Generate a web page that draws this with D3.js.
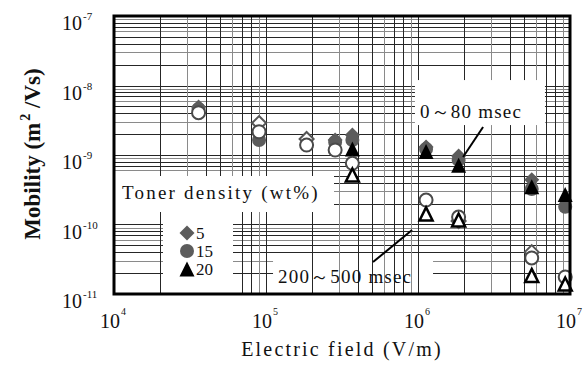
<!DOCTYPE html>
<html><head><meta charset="utf-8">
<script src="https://cdn.jsdelivr.net/npm/d3@7"></script>
<style>body{margin:0;background:#fff}</style>
</head><body>
<svg id="c" width="584" height="368"></svg>
<script>
// ---------- data ----------
const fieldValues = [3.6e4, 9e4, 1.85e5, 2.85e5, 3.7e5, 1.13e6, 1.85e6, 5.6e6, 9.3e6];
// 0~80 msec (filled markers), null = not visible
const early5  = [4.9e-9, null, null, 1.64e-9, 1.94e-9, 1.30e-9, 9.7e-10, 4.4e-10, null];
const early15 = [4.6e-9, 1.64e-9, null, 1.54e-9, 1.64e-9, 1.22e-9, 8.5e-10, 3.24e-10, 1.8e-10];
const early20 = [null, null, null, null, 1.22e-9, 1.12e-9, 7.1e-10, 3.5e-10, 2.7e-10];
// 200~500 msec (open markers)
const late5   = [null, 2.88e-9, 1.70e-9, null, null, null, 1.12e-10, 4.0e-11, null];
const late15  = [4.06e-9, 2.16e-9, 1.39e-9, 1.18e-9, 7.6e-10, 2.25e-10, 1.28e-10, 3.3e-11, 1.76e-11];
const late20  = [null, null, null, null, 5.15e-10, 1.42e-10, 1.16e-10, 1.85e-11, 1.39e-11];
const densities = ["5", "15", "20"];
const xTickExps = [4, 5, 6, 7];
const yTickExps = [-7, -8, -9, -10, -11];
const xTitle = "Electric field (V/m)";
const yTitleMain = "Mobility (m";
const yTitleSup = "2";
const yTitleEnd = " /Vs)";
const legendTitle = "Toner density (wt%)";
const earlyLabel = "0\uFF5E80 msec";
const lateLabel = "200\uFF5E500 msec";
// annotation anchors in data units [field, mobility]
const earlyLabelAt = [1.03e6, 3.4e-9];
const earlyArrow = [[2.68e6, 2.53e-9], [1.98e6, 9.35e-10]];
const lateLabelAt = [1.2e5, 1.44e-11];
const lateArrow = [[5.06e5, 2.88e-11], [9.14e5, 8.34e-11]];

// ---------- setup ----------
const m = {l:114, t:16, r:570, b:294};
const x = d3.scaleLog().domain([1e4, 1e7]).range([m.l, m.r]);
const y = d3.scaleLog().domain([1e-11, 1e-7]).range([m.b, m.t]);
const svg = d3.select("#c");
const serif = "'Liberation Serif','Times New Roman',serif";

const gH = svg.append("g");
const gBoxH = svg.append("g");
const gV = svg.append("g");
const gBox = svg.append("g");
const gMarks = svg.append("g");
const gFrame = svg.append("g");
const gAnn = svg.append("g");

// grid
const ks = [1,2,3,4,5,6,7,8,9];
const gridColor = k => ([3,6,9].includes(k) ? "#8a8a8a" : "#262626");
const xg = []; [4,5,6].forEach(e => ks.forEach(k => xg.push({v:k*Math.pow(10,e), k})));
const yg = []; [-11,-10,-9,-8].forEach(e => ks.forEach(k => yg.push({v:k*Math.pow(10,e), k})));
gH.selectAll("line").data(yg).join("line")
  .attr("x1", m.l).attr("x2", m.r)
  .attr("y1", d => Math.round(y(d.v))+0.5).attr("y2", d => Math.round(y(d.v))+0.5)
  .attr("stroke", d => gridColor(d.k)).attr("stroke-width", 1);
gV.selectAll("line").data(xg).join("line")
  .attr("y1", m.t).attr("y2", m.b)
  .attr("x1", d => Math.round(x(d.v))+0.5).attr("x2", d => Math.round(x(d.v))+0.5)
  .attr("stroke", d => gridColor(d.k)).attr("stroke-width", 1);

// white boxes
const lx = x(lateLabelAt[0]), ly = y(lateLabelAt[1]);
gBoxH.append("rect").attr("x", lx-5).attr("y", ly-27).attr("width", 160).attr("height", m.b-(ly-27)).attr("fill", "#fff");
const ex = x(earlyLabelAt[0]), ey = y(earlyLabelAt[1]);
gBox.append("rect").attr("x", ex-5).attr("y", ey-38).attr("width", 130).attr("height", 45).attr("fill", "#fff");
gBox.append("rect").attr("x", m.l).attr("y", 176).attr("width", 220).attr("height", 36).attr("fill", "#fff");
gBox.append("rect").attr("x", 163).attr("y", 211).attr("width", 70).attr("height", m.b-211).attr("fill", "#fff");

// symbols
const sym = {
  diamond: {draw(c, r){ c.moveTo(0,-r); c.lineTo(r,0); c.lineTo(0,r); c.lineTo(-r,0); c.closePath(); }},
  circle: {draw(c, r){ c.moveTo(r,0); c.arc(0,0,r,0,2*Math.PI); c.closePath(); }},
  triangle: {draw(c, r){ c.moveTo(0,-r); c.lineTo(r,r); c.lineTo(-r,r); c.closePath(); }}
};
const gray = "#5c5c5c";
const styleOf = {
  early: {diamond:{r:7.5, fill:gray, stroke:"none", sw:0}, circle:{r:7, fill:gray, stroke:"none", sw:0}, triangle:{r:7.5, fill:"#000", stroke:"none", sw:0}},
  late: {diamond:{r:7, fill:"#fff", stroke:"#555", sw:2}, circle:{r:6.5, fill:"#fff", stroke:"#4a4a4a", sw:2}, triangle:{r:6.5, fill:"#fff", stroke:"#000", sw:2.5}}
};
const series = [
  {vals: early5, shape:"diamond", kind:"early"},
  {vals: early15, shape:"circle", kind:"early"},
  {vals: early20, shape:"triangle", kind:"early"},
  {vals: late5, shape:"diamond", kind:"late"},
  {vals: late15, shape:"circle", kind:"late"},
  {vals: late20, shape:"triangle", kind:"late"}
];
series.forEach(s => {
  const st = styleOf[s.kind][s.shape];
  const pts = fieldValues.map((f,i) => ({f, v:s.vals[i]})).filter(d => d.v != null);
  gMarks.append("g").selectAll("path").data(pts).join("path")
    .attr("d", d3.symbol().type(sym[s.shape]).size(st.r))
    .attr("transform", d => `translate(${x(d.f)},${y(d.v)})`)
    .attr("fill", st.fill).attr("stroke", st.stroke).attr("stroke-width", st.sw);
});

// frame
gFrame.append("rect").attr("x", m.l).attr("y", m.t).attr("width", m.r-m.l).attr("height", m.b-m.t)
  .attr("fill", "none").attr("stroke", "#000").attr("stroke-width", 3);

// tick labels
xTickExps.forEach(e => {
  const t = gAnn.append("text").attr("x", x(Math.pow(10,e))-14).attr("y", 328)
    .attr("font-family", serif).attr("font-size", 20).attr("fill", "#111");
  t.append("tspan").text("10");
  t.append("tspan").attr("font-size", 10).attr("dx", 1).attr("dy", -13).text(e);
});
yTickExps.forEach(e => {
  const gy = y(Math.pow(10,e));
  const t = gAnn.append("text").attr("x", 62).attr("y", gy+14)
    .attr("font-family", serif).attr("font-size", 20).attr("fill", "#111");
  t.append("tspan").text("10");
  t.append("tspan").attr("font-size", 11).attr("dx", 1).attr("dy", -10).text(e);
});

// axis titles
gAnn.append("text").attr("x", 342).attr("y", 356).attr("text-anchor", "middle")
  .attr("font-family", serif).attr("font-size", 20).attr("letter-spacing", 2.2).attr("fill", "#111").text(xTitle);
const yt = gAnn.append("text").attr("transform", "translate(40,154) rotate(-90)").attr("text-anchor", "middle")
  .attr("font-family", serif).attr("font-size", 23).attr("font-weight", "bold").attr("fill", "#111");
yt.append("tspan").text(yTitleMain);
yt.append("tspan").attr("font-size", 14).attr("dy", -10).attr("dx", 2).text(yTitleSup);
yt.append("tspan").attr("dy", 10).text(yTitleEnd);

// legend
gAnn.append("text").attr("x", 122).attr("y", 199).attr("font-family", serif).attr("font-size", 19)
  .attr("letter-spacing", 2.2).attr("fill", "#111").text(legendTitle);
const legShapes = ["diamond", "circle", "triangle"];
densities.forEach((d, i) => {
  const st = styleOf.early[legShapes[i]];
  const cy = 233 + i*18;
  gAnn.append("path").attr("d", d3.symbol().type(sym[legShapes[i]]).size(st.r))
    .attr("transform", `translate(187,${cy})`).attr("fill", st.fill);
  gAnn.append("text").attr("x", 196).attr("y", cy+6).attr("font-family", serif).attr("font-size", 17)
    .attr("fill", "#111").text(d);
});

// annotations
gAnn.append("text").attr("x", ex).attr("y", ey).attr("font-family", serif).attr("font-size", 19)
  .attr("letter-spacing", 1.2).attr("fill", "#111").text(earlyLabel);
gAnn.append("text").attr("x", lx).attr("y", ly).attr("font-family", serif).attr("font-size", 19)
  .attr("letter-spacing", 1.2).attr("fill", "#111").text(lateLabel);
[earlyArrow, lateArrow].forEach(a => {
  gAnn.append("line").attr("x1", x(a[0][0])).attr("y1", y(a[0][1])).attr("x2", x(a[1][0])).attr("y2", y(a[1][1]))
    .attr("stroke", "#000").attr("stroke-width", 2);
});
</script>
</body></html>
